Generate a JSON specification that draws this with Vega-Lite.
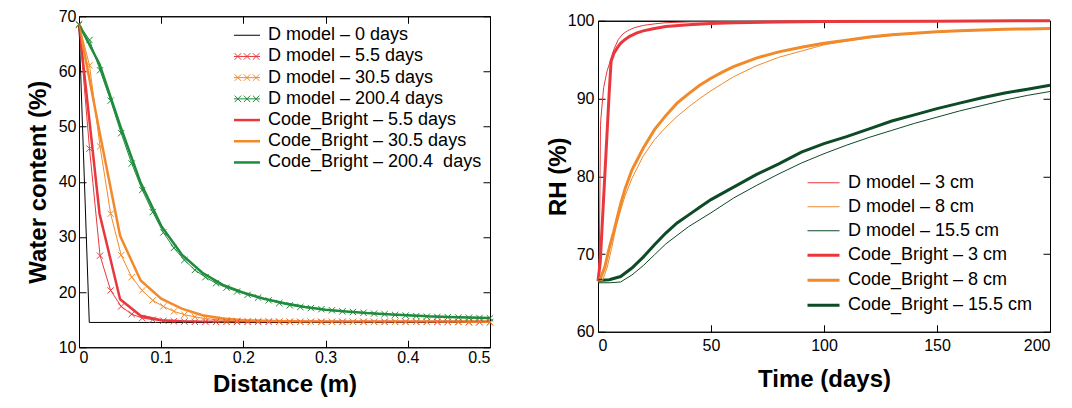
{
"$schema": "https://vega.github.io/schema/vega-lite/v6.json",
"padding": {"left": 25, "top": 7, "right": 5, "bottom": 5},
"spacing": 49,
"center": true,
"resolve": {"scale": {"color": "independent", "strokeWidth": "independent"}, "legend": {"color": "independent", "strokeWidth": "independent"}},
"config": {
  "font": "Liberation Sans",
  "view": {"stroke": "black", "strokeWidth": 1},
  "axis": {"grid": false, "domainColor": "black", "tickColor": "black", "tickSize": -7, "labelFontSize": 16, "labelColor": "black", "labelFont": "Liberation Sans", "titleFontSize": 24, "titleFontWeight": "bold", "titleColor": "black", "titleFont": "Liberation Sans", "domainWidth": 1, "tickWidth": 1},
  "legend": {"labelFontSize": 18, "labelColor": "black", "labelFont": "Liberation Sans", "labelLimit": 400}
},
"datasets": {
"wc": [
{"series":"D model – 0 days","x":0,"y":68.5},{"series":"D model – 0 days","x":0.0125,"y":14.5},{"series":"D model – 0 days","x":0.5,"y":14.5},
{"series":"Code_Bright – 5.5 days","x":0,"y":68.5},{"series":"Code_Bright – 5.5 days","x":0.025,"y":34.2},{"series":"Code_Bright – 5.5 days","x":0.05,"y":18.7},{"series":"Code_Bright – 5.5 days","x":0.075,"y":15.7},{"series":"Code_Bright – 5.5 days","x":0.1,"y":14.9},{"series":"Code_Bright – 5.5 days","x":0.125,"y":14.7},{"series":"Code_Bright – 5.5 days","x":0.15,"y":14.6},{"series":"Code_Bright – 5.5 days","x":0.2,"y":14.6},{"series":"Code_Bright – 5.5 days","x":0.3,"y":14.6},{"series":"Code_Bright – 5.5 days","x":0.4,"y":14.6},{"series":"Code_Bright – 5.5 days","x":0.5,"y":14.6},
{"series":"Code_Bright – 30.5 days","x":0,"y":68.5},{"series":"Code_Bright – 30.5 days","x":0.025,"y":49.0},{"series":"Code_Bright – 30.5 days","x":0.05,"y":30.2},{"series":"Code_Bright – 30.5 days","x":0.075,"y":22.1},{"series":"Code_Bright – 30.5 days","x":0.1,"y":18.8},{"series":"Code_Bright – 30.5 days","x":0.125,"y":17.0},{"series":"Code_Bright – 30.5 days","x":0.15,"y":15.8},{"series":"Code_Bright – 30.5 days","x":0.175,"y":15.2},{"series":"Code_Bright – 30.5 days","x":0.2,"y":14.9},{"series":"Code_Bright – 30.5 days","x":0.225,"y":14.8},{"series":"Code_Bright – 30.5 days","x":0.25,"y":14.7},{"series":"Code_Bright – 30.5 days","x":0.275,"y":14.65},{"series":"Code_Bright – 30.5 days","x":0.3,"y":14.6},{"series":"Code_Bright – 30.5 days","x":0.4,"y":14.6},{"series":"Code_Bright – 30.5 days","x":0.5,"y":14.6},
{"series":"Code_Bright – 200.4  days","x":0,"y":68.5},{"series":"Code_Bright – 200.4  days","x":0.025,"y":61.3},{"series":"Code_Bright – 200.4  days","x":0.05,"y":50.2},{"series":"Code_Bright – 200.4  days","x":0.075,"y":39.8},{"series":"Code_Bright – 200.4  days","x":0.1,"y":32.0},{"series":"Code_Bright – 200.4  days","x":0.125,"y":26.8},{"series":"Code_Bright – 200.4  days","x":0.15,"y":23.5},{"series":"Code_Bright – 200.4  days","x":0.175,"y":21.3},{"series":"Code_Bright – 200.4  days","x":0.2,"y":19.9},{"series":"Code_Bright – 200.4  days","x":0.225,"y":18.8},{"series":"Code_Bright – 200.4  days","x":0.25,"y":18.0},{"series":"Code_Bright – 200.4  days","x":0.275,"y":17.3},{"series":"Code_Bright – 200.4  days","x":0.3,"y":16.8},{"series":"Code_Bright – 200.4  days","x":0.325,"y":16.5},{"series":"Code_Bright – 200.4  days","x":0.35,"y":16.2},{"series":"Code_Bright – 200.4  days","x":0.375,"y":16.0},{"series":"Code_Bright – 200.4  days","x":0.4,"y":15.8},{"series":"Code_Bright – 200.4  days","x":0.425,"y":15.6},{"series":"Code_Bright – 200.4  days","x":0.45,"y":15.5},{"series":"Code_Bright – 200.4  days","x":0.475,"y":15.4},{"series":"Code_Bright – 200.4  days","x":0.5,"y":15.3},
{"series":"D model – 5.5 days","x":0,"y":68.5},{"series":"D model – 5.5 days","x":0.0128,"y":46.0},{"series":"D model – 5.5 days","x":0.0256,"y":26.6},{"series":"D model – 5.5 days","x":0.0385,"y":20.3},{"series":"D model – 5.5 days","x":0.0513,"y":17.4},{"series":"D model – 5.5 days","x":0.0641,"y":16.0},{"series":"D model – 5.5 days","x":0.0769,"y":15.3},{"series":"D model – 5.5 days","x":0.0897,"y":15.0},{"series":"D model – 5.5 days","x":0.1026,"y":14.8},{"series":"D model – 5.5 days","x":0.1154,"y":14.7},{"series":"D model – 5.5 days","x":0.1282,"y":14.65},{"series":"D model – 5.5 days","x":0.141,"y":14.6},{"series":"D model – 5.5 days","x":0.1538,"y":14.6},{"series":"D model – 5.5 days","x":0.1667,"y":14.6},{"series":"D model – 5.5 days","x":0.1795,"y":14.6},{"series":"D model – 5.5 days","x":0.1923,"y":14.6},{"series":"D model – 5.5 days","x":0.2051,"y":14.6},{"series":"D model – 5.5 days","x":0.2179,"y":14.6},{"series":"D model – 5.5 days","x":0.2308,"y":14.6},{"series":"D model – 5.5 days","x":0.2436,"y":14.6},{"series":"D model – 5.5 days","x":0.2564,"y":14.6},{"series":"D model – 5.5 days","x":0.2692,"y":14.6},{"series":"D model – 5.5 days","x":0.2821,"y":14.6},{"series":"D model – 5.5 days","x":0.2949,"y":14.6},{"series":"D model – 5.5 days","x":0.3077,"y":14.6},{"series":"D model – 5.5 days","x":0.3205,"y":14.6},{"series":"D model – 5.5 days","x":0.3333,"y":14.6},{"series":"D model – 5.5 days","x":0.3462,"y":14.6},{"series":"D model – 5.5 days","x":0.359,"y":14.6},{"series":"D model – 5.5 days","x":0.3718,"y":14.6},{"series":"D model – 5.5 days","x":0.3846,"y":14.6},{"series":"D model – 5.5 days","x":0.3974,"y":14.6},{"series":"D model – 5.5 days","x":0.4103,"y":14.6},{"series":"D model – 5.5 days","x":0.4231,"y":14.6},{"series":"D model – 5.5 days","x":0.4359,"y":14.6},{"series":"D model – 5.5 days","x":0.4487,"y":14.6},{"series":"D model – 5.5 days","x":0.4615,"y":14.6},{"series":"D model – 5.5 days","x":0.4744,"y":14.55},{"series":"D model – 5.5 days","x":0.4872,"y":14.55},{"series":"D model – 5.5 days","x":0.5,"y":14.55},
{"series":"D model – 30.5 days","x":0,"y":68.5},{"series":"D model – 30.5 days","x":0.0128,"y":61.1},{"series":"D model – 30.5 days","x":0.0256,"y":46.4},{"series":"D model – 30.5 days","x":0.0385,"y":34.2},{"series":"D model – 30.5 days","x":0.0513,"y":26.7},{"series":"D model – 30.5 days","x":0.0641,"y":22.7},{"series":"D model – 30.5 days","x":0.0769,"y":20.3},{"series":"D model – 30.5 days","x":0.0897,"y":18.5},{"series":"D model – 30.5 days","x":0.1026,"y":17.4},{"series":"D model – 30.5 days","x":0.1154,"y":16.5},{"series":"D model – 30.5 days","x":0.1282,"y":15.9},{"series":"D model – 30.5 days","x":0.141,"y":15.5},{"series":"D model – 30.5 days","x":0.1538,"y":15.2},{"series":"D model – 30.5 days","x":0.1667,"y":15.0},{"series":"D model – 30.5 days","x":0.1795,"y":14.9},{"series":"D model – 30.5 days","x":0.1923,"y":14.8},{"series":"D model – 30.5 days","x":0.2051,"y":14.75},{"series":"D model – 30.5 days","x":0.2179,"y":14.7},{"series":"D model – 30.5 days","x":0.2308,"y":14.7},{"series":"D model – 30.5 days","x":0.2436,"y":14.65},{"series":"D model – 30.5 days","x":0.2564,"y":14.65},{"series":"D model – 30.5 days","x":0.2692,"y":14.6},{"series":"D model – 30.5 days","x":0.2821,"y":14.6},{"series":"D model – 30.5 days","x":0.2949,"y":14.6},{"series":"D model – 30.5 days","x":0.3077,"y":14.6},{"series":"D model – 30.5 days","x":0.3205,"y":14.6},{"series":"D model – 30.5 days","x":0.3333,"y":14.6},{"series":"D model – 30.5 days","x":0.3462,"y":14.6},{"series":"D model – 30.5 days","x":0.359,"y":14.6},{"series":"D model – 30.5 days","x":0.3718,"y":14.6},{"series":"D model – 30.5 days","x":0.3846,"y":14.6},{"series":"D model – 30.5 days","x":0.3974,"y":14.6},{"series":"D model – 30.5 days","x":0.4103,"y":14.6},{"series":"D model – 30.5 days","x":0.4231,"y":14.6},{"series":"D model – 30.5 days","x":0.4359,"y":14.55},{"series":"D model – 30.5 days","x":0.4487,"y":14.55},{"series":"D model – 30.5 days","x":0.4615,"y":14.55},{"series":"D model – 30.5 days","x":0.4744,"y":14.5},{"series":"D model – 30.5 days","x":0.4872,"y":14.5},{"series":"D model – 30.5 days","x":0.5,"y":14.5},
{"series":"D model – 200.4 days","x":0,"y":68.5},{"series":"D model – 200.4 days","x":0.0128,"y":65.7},{"series":"D model – 200.4 days","x":0.0256,"y":60.2},{"series":"D model – 200.4 days","x":0.0385,"y":54.7},{"series":"D model – 200.4 days","x":0.0513,"y":48.8},{"series":"D model – 200.4 days","x":0.0641,"y":43.3},{"series":"D model – 200.4 days","x":0.0769,"y":38.5},{"series":"D model – 200.4 days","x":0.0897,"y":34.5},{"series":"D model – 200.4 days","x":0.1026,"y":30.8},{"series":"D model – 200.4 days","x":0.1154,"y":28.0},{"series":"D model – 200.4 days","x":0.1282,"y":25.8},{"series":"D model – 200.4 days","x":0.141,"y":24.0},{"series":"D model – 200.4 days","x":0.1538,"y":22.7},{"series":"D model – 200.4 days","x":0.1667,"y":21.6},{"series":"D model – 200.4 days","x":0.1795,"y":20.8},{"series":"D model – 200.4 days","x":0.1923,"y":20.1},{"series":"D model – 200.4 days","x":0.2051,"y":19.5},{"series":"D model – 200.4 days","x":0.2179,"y":19.0},{"series":"D model – 200.4 days","x":0.2308,"y":18.5},{"series":"D model – 200.4 days","x":0.2436,"y":18.0},{"series":"D model – 200.4 days","x":0.2564,"y":17.6},{"series":"D model – 200.4 days","x":0.2692,"y":17.3},{"series":"D model – 200.4 days","x":0.2821,"y":17.1},{"series":"D model – 200.4 days","x":0.2949,"y":16.9},{"series":"D model – 200.4 days","x":0.3077,"y":16.7},{"series":"D model – 200.4 days","x":0.3205,"y":16.5},{"series":"D model – 200.4 days","x":0.3333,"y":16.4},{"series":"D model – 200.4 days","x":0.3462,"y":16.25},{"series":"D model – 200.4 days","x":0.359,"y":16.1},{"series":"D model – 200.4 days","x":0.3718,"y":16.0},{"series":"D model – 200.4 days","x":0.3846,"y":15.85},{"series":"D model – 200.4 days","x":0.3974,"y":15.75},{"series":"D model – 200.4 days","x":0.4103,"y":15.65},{"series":"D model – 200.4 days","x":0.4231,"y":15.55},{"series":"D model – 200.4 days","x":0.4359,"y":15.5},{"series":"D model – 200.4 days","x":0.4487,"y":15.45},{"series":"D model – 200.4 days","x":0.4615,"y":15.4},{"series":"D model – 200.4 days","x":0.4744,"y":15.35},{"series":"D model – 200.4 days","x":0.4872,"y":15.3},{"series":"D model – 200.4 days","x":0.5,"y":15.25}
],
"rh": [
{"series":"Code_Bright – 3 cm","t":0,"rh":66.5},{"series":"Code_Bright – 3 cm","t":1,"rh":69},{"series":"Code_Bright – 3 cm","t":2,"rh":74.5},{"series":"Code_Bright – 3 cm","t":3,"rh":80},{"series":"Code_Bright – 3 cm","t":4,"rh":85.5},{"series":"Code_Bright – 3 cm","t":5,"rh":91},{"series":"Code_Bright – 3 cm","t":5.8,"rh":94.8},{"series":"Code_Bright – 3 cm","t":7,"rh":95.8},{"series":"Code_Bright – 3 cm","t":8.5,"rh":96.5},{"series":"Code_Bright – 3 cm","t":10,"rh":97.1},{"series":"Code_Bright – 3 cm","t":12,"rh":97.6},{"series":"Code_Bright – 3 cm","t":14,"rh":98.0},{"series":"Code_Bright – 3 cm","t":17,"rh":98.4},{"series":"Code_Bright – 3 cm","t":20,"rh":98.7},{"series":"Code_Bright – 3 cm","t":25,"rh":99.0},{"series":"Code_Bright – 3 cm","t":30,"rh":99.25},{"series":"Code_Bright – 3 cm","t":40,"rh":99.5},{"series":"Code_Bright – 3 cm","t":50,"rh":99.65},{"series":"Code_Bright – 3 cm","t":60,"rh":99.75},{"series":"Code_Bright – 3 cm","t":80,"rh":99.85},{"series":"Code_Bright – 3 cm","t":100,"rh":99.9},{"series":"Code_Bright – 3 cm","t":150,"rh":99.95},{"series":"Code_Bright – 3 cm","t":200,"rh":100},
{"series":"Code_Bright – 8 cm","t":0,"rh":66.5},{"series":"Code_Bright – 8 cm","t":1,"rh":66.8},{"series":"Code_Bright – 8 cm","t":3,"rh":68.3},{"series":"Code_Bright – 8 cm","t":5,"rh":70.8},{"series":"Code_Bright – 8 cm","t":7,"rh":72.9},{"series":"Code_Bright – 8 cm","t":10,"rh":76.4},{"series":"Code_Bright – 8 cm","t":12,"rh":78.4},{"series":"Code_Bright – 8 cm","t":15,"rh":80.8},{"series":"Code_Bright – 8 cm","t":20,"rh":83.6},{"series":"Code_Bright – 8 cm","t":25,"rh":86.0},{"series":"Code_Bright – 8 cm","t":30,"rh":87.8},{"series":"Code_Bright – 8 cm","t":35,"rh":89.4},{"series":"Code_Bright – 8 cm","t":40,"rh":90.6},{"series":"Code_Bright – 8 cm","t":45,"rh":91.7},{"series":"Code_Bright – 8 cm","t":50,"rh":92.6},{"series":"Code_Bright – 8 cm","t":55,"rh":93.4},{"series":"Code_Bright – 8 cm","t":60,"rh":94.1},{"series":"Code_Bright – 8 cm","t":70,"rh":95.2},{"series":"Code_Bright – 8 cm","t":80,"rh":96.0},{"series":"Code_Bright – 8 cm","t":90,"rh":96.6},{"series":"Code_Bright – 8 cm","t":100,"rh":97.1},{"series":"Code_Bright – 8 cm","t":110,"rh":97.5},{"series":"Code_Bright – 8 cm","t":120,"rh":97.9},{"series":"Code_Bright – 8 cm","t":130,"rh":98.2},{"series":"Code_Bright – 8 cm","t":140,"rh":98.4},{"series":"Code_Bright – 8 cm","t":150,"rh":98.6},{"series":"Code_Bright – 8 cm","t":160,"rh":98.7},{"series":"Code_Bright – 8 cm","t":170,"rh":98.8},{"series":"Code_Bright – 8 cm","t":180,"rh":98.9},{"series":"Code_Bright – 8 cm","t":190,"rh":98.95},{"series":"Code_Bright – 8 cm","t":200,"rh":99.0},
{"series":"Code_Bright – 15.5 cm","t":0,"rh":66.6},{"series":"Code_Bright – 15.5 cm","t":5,"rh":66.7},{"series":"Code_Bright – 15.5 cm","t":10,"rh":67.1},{"series":"Code_Bright – 15.5 cm","t":15,"rh":68.2},{"series":"Code_Bright – 15.5 cm","t":20,"rh":69.6},{"series":"Code_Bright – 15.5 cm","t":25,"rh":71.2},{"series":"Code_Bright – 15.5 cm","t":30,"rh":72.7},{"series":"Code_Bright – 15.5 cm","t":35,"rh":74.0},{"series":"Code_Bright – 15.5 cm","t":40,"rh":75.0},{"series":"Code_Bright – 15.5 cm","t":45,"rh":76.0},{"series":"Code_Bright – 15.5 cm","t":50,"rh":77.0},{"series":"Code_Bright – 15.5 cm","t":60,"rh":78.6},{"series":"Code_Bright – 15.5 cm","t":70,"rh":80.2},{"series":"Code_Bright – 15.5 cm","t":80,"rh":81.6},{"series":"Code_Bright – 15.5 cm","t":90,"rh":83.1},{"series":"Code_Bright – 15.5 cm","t":100,"rh":84.2},{"series":"Code_Bright – 15.5 cm","t":110,"rh":85.1},{"series":"Code_Bright – 15.5 cm","t":120,"rh":86.1},{"series":"Code_Bright – 15.5 cm","t":130,"rh":87.1},{"series":"Code_Bright – 15.5 cm","t":140,"rh":87.9},{"series":"Code_Bright – 15.5 cm","t":150,"rh":88.7},{"series":"Code_Bright – 15.5 cm","t":160,"rh":89.4},{"series":"Code_Bright – 15.5 cm","t":170,"rh":90.1},{"series":"Code_Bright – 15.5 cm","t":180,"rh":90.7},{"series":"Code_Bright – 15.5 cm","t":190,"rh":91.2},{"series":"Code_Bright – 15.5 cm","t":200,"rh":91.7},
{"series":"D model – 3 cm","t":0,"rh":66.5},{"series":"D model – 3 cm","t":0.6,"rh":70},{"series":"D model – 3 cm","t":1.1,"rh":86.5},{"series":"D model – 3 cm","t":1.3,"rh":87.5},{"series":"D model – 3 cm","t":2.5,"rh":91.4},{"series":"D model – 3 cm","t":4,"rh":93.5},{"series":"D model – 3 cm","t":5.5,"rh":94.9},{"series":"D model – 3 cm","t":7,"rh":96.3},{"series":"D model – 3 cm","t":9,"rh":97.6},{"series":"D model – 3 cm","t":11,"rh":98.3},{"series":"D model – 3 cm","t":13,"rh":98.7},{"series":"D model – 3 cm","t":16,"rh":99.1},{"series":"D model – 3 cm","t":20,"rh":99.4},{"series":"D model – 3 cm","t":25,"rh":99.6},{"series":"D model – 3 cm","t":30,"rh":99.75},{"series":"D model – 3 cm","t":40,"rh":99.85},{"series":"D model – 3 cm","t":60,"rh":99.9},{"series":"D model – 3 cm","t":100,"rh":100},{"series":"D model – 3 cm","t":200,"rh":100},
{"series":"D model – 8 cm","t":0,"rh":66.5},{"series":"D model – 8 cm","t":2,"rh":66.6},{"series":"D model – 8 cm","t":4,"rh":68.2},{"series":"D model – 8 cm","t":6,"rh":70.7},{"series":"D model – 8 cm","t":8,"rh":73.5},{"series":"D model – 8 cm","t":10,"rh":75.6},{"series":"D model – 8 cm","t":12,"rh":77.5},{"series":"D model – 8 cm","t":15,"rh":79.7},{"series":"D model – 8 cm","t":20,"rh":82.6},{"series":"D model – 8 cm","t":25,"rh":84.7},{"series":"D model – 8 cm","t":30,"rh":86.3},{"series":"D model – 8 cm","t":35,"rh":87.7},{"series":"D model – 8 cm","t":40,"rh":88.9},{"series":"D model – 8 cm","t":45,"rh":90.0},{"series":"D model – 8 cm","t":50,"rh":91.0},{"series":"D model – 8 cm","t":55,"rh":91.9},{"series":"D model – 8 cm","t":60,"rh":92.8},{"series":"D model – 8 cm","t":70,"rh":94.2},{"series":"D model – 8 cm","t":80,"rh":95.3},{"series":"D model – 8 cm","t":90,"rh":96.1},{"series":"D model – 8 cm","t":100,"rh":96.9},{"series":"D model – 8 cm","t":110,"rh":97.4},{"series":"D model – 8 cm","t":120,"rh":97.8},{"series":"D model – 8 cm","t":130,"rh":98.1},{"series":"D model – 8 cm","t":140,"rh":98.4},{"series":"D model – 8 cm","t":150,"rh":98.6},{"series":"D model – 8 cm","t":160,"rh":98.7},{"series":"D model – 8 cm","t":170,"rh":98.8},{"series":"D model – 8 cm","t":180,"rh":98.9},{"series":"D model – 8 cm","t":190,"rh":98.95},{"series":"D model – 8 cm","t":200,"rh":99.0},
{"series":"D model – 15.5 cm","t":0,"rh":66.3},{"series":"D model – 15.5 cm","t":5,"rh":66.3},{"series":"D model – 15.5 cm","t":10,"rh":66.4},{"series":"D model – 15.5 cm","t":15,"rh":67.3},{"series":"D model – 15.5 cm","t":20,"rh":68.5},{"series":"D model – 15.5 cm","t":25,"rh":69.9},{"series":"D model – 15.5 cm","t":30,"rh":71.3},{"series":"D model – 15.5 cm","t":40,"rh":73.5},{"series":"D model – 15.5 cm","t":50,"rh":75.3},{"series":"D model – 15.5 cm","t":60,"rh":77.2},{"series":"D model – 15.5 cm","t":70,"rh":78.8},{"series":"D model – 15.5 cm","t":80,"rh":80.3},{"series":"D model – 15.5 cm","t":90,"rh":81.7},{"series":"D model – 15.5 cm","t":100,"rh":82.9},{"series":"D model – 15.5 cm","t":110,"rh":84.0},{"series":"D model – 15.5 cm","t":120,"rh":85.0},{"series":"D model – 15.5 cm","t":130,"rh":85.9},{"series":"D model – 15.5 cm","t":140,"rh":86.8},{"series":"D model – 15.5 cm","t":150,"rh":87.6},{"series":"D model – 15.5 cm","t":160,"rh":88.4},{"series":"D model – 15.5 cm","t":170,"rh":89.1},{"series":"D model – 15.5 cm","t":180,"rh":89.8},{"series":"D model – 15.5 cm","t":190,"rh":90.4},{"series":"D model – 15.5 cm","t":200,"rh":90.9}
]
},
"hconcat": [
{
  "width": 411, "height": 331,
  "data": {"name": "wc"},
  "resolve": {"scale": {"x": "independent", "y": "independent"}},
  "layer": [
    {
      "encoding": {
        "x": {"field": "x", "type": "quantitative", "scale": {"domain": [0, 0.5], "nice": false, "zero": false}, "axis": {"orient": "bottom", "values": [0, 0.1, 0.2, 0.3, 0.4, 0.5], "format": ".1~f", "title": "Distance (m)", "labelPadding": 9, "titlePadding": 7}},
        "y": {"field": "y", "type": "quantitative", "scale": {"domain": [10, 70], "nice": false, "zero": false}, "axis": {"orient": "left", "values": [10, 20, 30, 40, 50, 60, 70], "title": "Water content (%)", "labelPadding": 10, "titlePadding": 8}},
        "color": {"field": "series", "type": "nominal", "sort": null,
          "scale": {"domain": ["D model – 0 days", "D model – 5.5 days", "D model – 30.5 days", "D model – 200.4 days", "Code_Bright – 5.5 days", "Code_Bright – 30.5 days", "Code_Bright – 200.4  days"],
                    "range": ["#000000", "#e8383d", "#f28a2c", "#1f8b3c", "#e8383d", "#f28a2c", "#1f8b3c"]},
          "legend": {"orient": "none", "legendX": 159, "legendY": 10, "title": null, "padding": 0, "labelFontSize": 18, "symbolSize": 169, "symbolType": "M-2,0H2", "symbolStrokeWidth": 1, "rowPadding": 3.2, "labelOffset": 12,
            "labelExpr": "replace(datum.label, '200.4  days', '200.4 \u00a0days')",
            "encode": {"symbols": {"update": {
              "shape": {"signal": "indexof(datum.value,'D model')===0 && indexof(datum.value,' 0 days')<0 ? 'M-2,0H2M-1.9,-0.5L-0.9,0.5M-1.9,0.5L-0.9,-0.5M-0.5,-0.5L0.5,0.5M-0.5,0.5L0.5,-0.5M0.9,-0.5L1.9,0.5M0.9,0.5L1.9,-0.5' : 'M-2,0H2'"},
              "fill": {"value": "transparent"}}}}}},
        "strokeWidth": {"field": "series", "type": "nominal", "sort": null, "scale": {"type": "ordinal", "domain": ["D model – 0 days", "D model – 5.5 days", "D model – 30.5 days", "D model – 200.4 days", "Code_Bright – 5.5 days", "Code_Bright – 30.5 days", "Code_Bright – 200.4  days"], "range": [1, 1, 1, 1, 2.5, 2.5, 2.5]}}
      },
      "layer": [
        {"transform": [{"filter": "indexof(datum.series,'Code')===0"}], "mark": {"type": "line"}},
        {"transform": [{"filter": "indexof(datum.series,'D model')===0"}], "mark": {"type": "line"}},
        {"transform": [{"filter": "indexof(datum.series,'D model')===0 && indexof(datum.series,' 0 days')<0"}], "mark": {"type": "point", "shape": "M-1,-1L1,1M-1,1L1,-1", "size": 40, "filled": false, "opacity": 1}}
      ]
    },
    {
      "mark": {"type": "point", "opacity": 0},
      "encoding": {
        "x": {"field": "x", "type": "quantitative", "scale": {"domain": [0, 0.5], "nice": false, "zero": false}, "axis": {"orient": "top", "values": [0, 0.1, 0.2, 0.3, 0.4, 0.5], "labels": false, "title": null}},
        "y": {"field": "y", "type": "quantitative", "scale": {"domain": [10, 70], "nice": false, "zero": false}, "axis": {"orient": "right", "values": [10, 20, 30, 40, 50, 60, 70], "labels": false, "title": null}}
      }
    }
  ]
},
{
  "width": 452, "height": 311,
  "data": {"name": "rh"},
  "resolve": {"scale": {"x": "independent", "y": "independent"}},
  "layer": [
    {
      "encoding": {
        "x": {"field": "t", "type": "quantitative", "scale": {"domain": [0, 200], "nice": false}, "axis": {"orient": "bottom", "values": [0, 50, 100, 150, 200], "title": "Time (days)", "labelPadding": 13, "titlePadding": 14}},
        "y": {"field": "rh", "type": "quantitative", "scale": {"domain": [60, 100], "nice": false, "zero": false}, "axis": {"orient": "left", "values": [60, 70, 80, 90, 100], "title": "RH (%)", "labelPadding": 11, "titlePadding": -3}},
        "color": {"field": "series", "type": "nominal", "sort": null,
          "scale": {"domain": ["D model – 3 cm", "D model – 8 cm", "D model – 15.5 cm", "Code_Bright – 3 cm", "Code_Bright – 8 cm", "Code_Bright – 15.5 cm"],
                    "range": ["#e8383d", "#f08a2b", "#0d4a26", "#e8383d", "#f08a2b", "#0d4a26"]},
          "legend": {"orient": "none", "legendX": 216, "legendY": 153, "title": null, "padding": 0, "labelFontSize": 18, "symbolSize": 256, "symbolType": "M-2,0H2", "symbolStrokeWidth": 1, "rowPadding": 6.0, "labelOffset": 15,
            "encode": {"symbols": {"update": {"fill": {"value": "transparent"}}}}}},
        "strokeWidth": {"field": "series", "type": "nominal", "sort": null, "scale": {"type": "ordinal", "domain": ["D model – 3 cm", "D model – 8 cm", "D model – 15.5 cm", "Code_Bright – 3 cm", "Code_Bright – 8 cm", "Code_Bright – 15.5 cm"], "range": [1, 1, 1, 3, 3, 3]}}
      },
      "layer": [
        {"transform": [{"filter": "indexof(datum.series,'Code')===0"}], "mark": {"type": "line"}},
        {"transform": [{"filter": "indexof(datum.series,'D model')===0"}], "mark": {"type": "line"}}
      ]
    },
    {
      "mark": {"type": "point", "opacity": 0},
      "encoding": {
        "x": {"field": "t", "type": "quantitative", "scale": {"domain": [0, 200], "nice": false}, "axis": {"orient": "top", "values": [0, 50, 100, 150, 200], "labels": false, "title": null}},
        "y": {"field": "rh", "type": "quantitative", "scale": {"domain": [60, 100], "nice": false, "zero": false}, "axis": {"orient": "right", "values": [60, 70, 80, 90, 100], "labels": false, "title": null}}
      }
    }
  ]
}
]
}
